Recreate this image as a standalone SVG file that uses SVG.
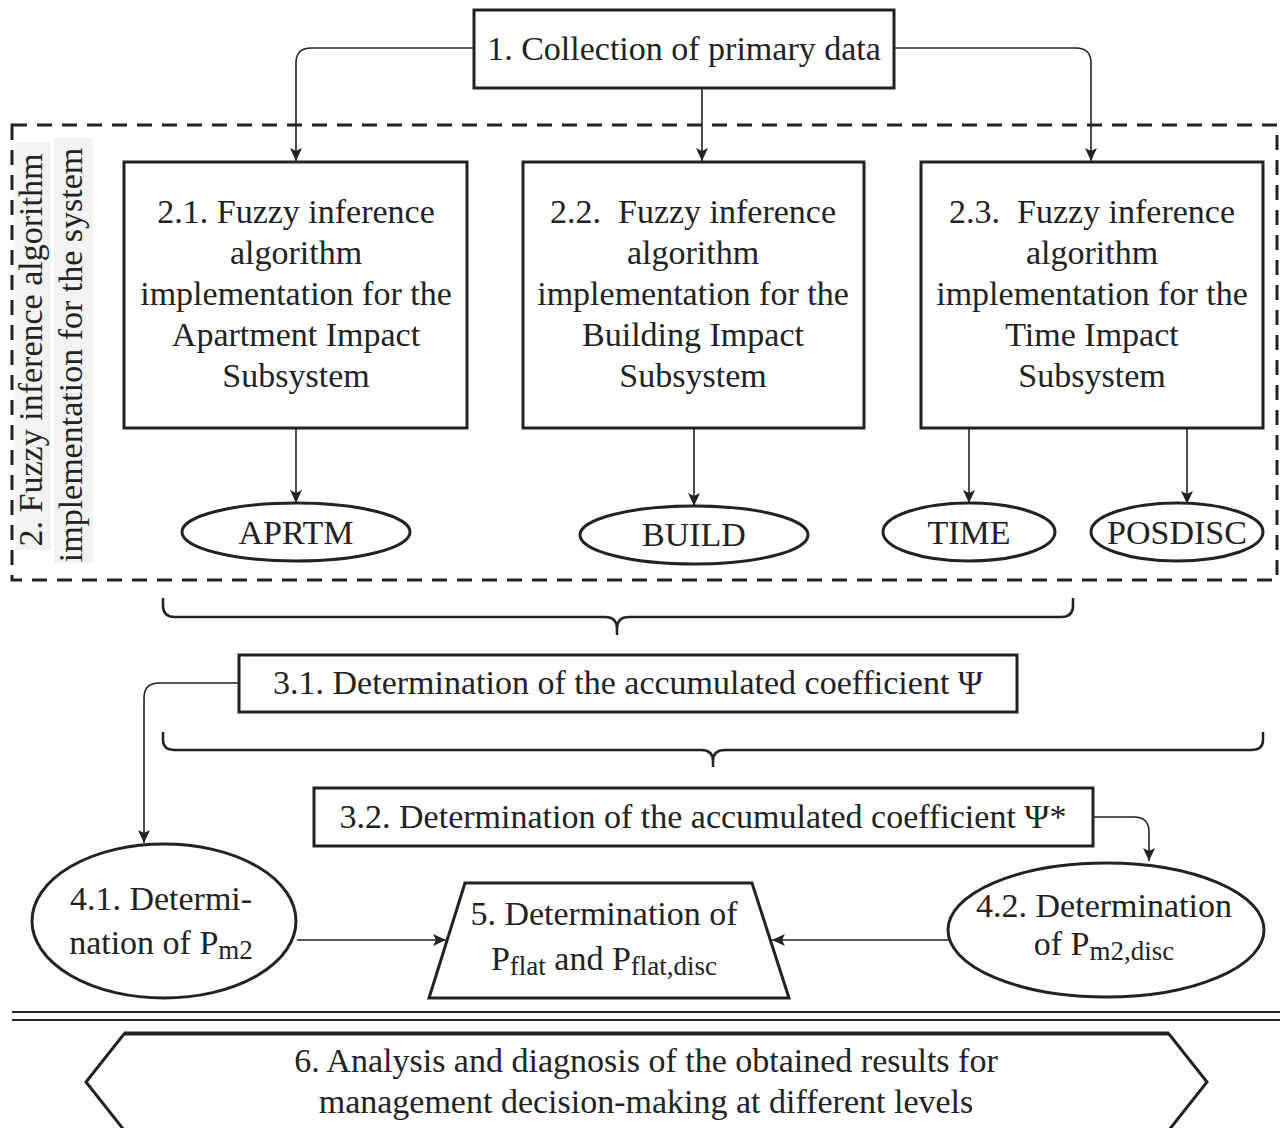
<svg xmlns="http://www.w3.org/2000/svg" width="1280" height="1128" viewBox="0 0 1280 1128">
<style>
text{font-family:"Liberation Serif","Times New Roman",serif;font-size:34px;fill:#222;text-anchor:middle;white-space:pre}
.box{fill:#fff;stroke:#222;stroke-width:3}
.conn{fill:none;stroke:#222;stroke-width:1.6}
.brace{fill:none;stroke:#222;stroke-width:2.5}
.sub{font-size:27px}
</style>
<defs>
<marker id="ah" markerUnits="userSpaceOnUse" markerWidth="14" markerHeight="14" refX="13" refY="6" orient="auto">
<path d="M0,0 L13,6 L0,12 L3,6 z" fill="#222"/>
</marker>
</defs>
<rect width="1280" height="1128" fill="#fff"/>

<g id="group2">
<rect x="12" y="125" width="1265" height="455" fill="none" stroke="#222" stroke-width="3" stroke-dasharray="15 10"/>
<rect x="15" y="142" width="36" height="408" fill="#f3f3f3"/>
<rect x="54" y="138" width="39" height="425" fill="#f3f3f3"/>
<text transform="translate(42,350) rotate(-90)">2. Fuzzy inference algorithm</text>
<text transform="translate(82,355) rotate(-90)">implementation for the system</text>
</g>

<g id="connectors">
<path class="conn" d="M474,48 H311 Q296,48 296,63 V161" marker-end="url(#ah)"/>
<path class="conn" d="M702,88 V161" marker-end="url(#ah)"/>
<path class="conn" d="M894,48 H1076 Q1091,48 1091,63 V161" marker-end="url(#ah)"/>
<path class="conn" d="M296,429 V503" marker-end="url(#ah)"/>
<path class="conn" d="M694,429 V506" marker-end="url(#ah)"/>
<path class="conn" d="M969,429 V503" marker-end="url(#ah)"/>
<path class="conn" d="M1187,429 V504" marker-end="url(#ah)"/>
<path class="conn" d="M239,683 H159 Q144,683 144,698 V843" marker-end="url(#ah)"/>
<path class="conn" d="M1093,817 H1134 Q1149,817 1149,832 V861" marker-end="url(#ah)"/>
<path class="conn" d="M297,940 H446" marker-end="url(#ah)"/>
<path class="conn" d="M949,940 H772" marker-end="url(#ah)"/>
<path class="brace" d="M163,598 V606 Q163,617 175,617 H605 Q617,617 617,629 V635 M617,629 Q617,617 629,617 H1061 Q1073,617 1073,606 V598"/>
<path class="brace" d="M163,732 V740 Q163,750 175,750 H701 Q713,750 713,761 V767 M713,761 Q713,750 725,750 H1251 Q1263,750 1263,740 V732"/>
</g>

<g id="n1">
<rect class="box" x="474" y="10" width="420" height="78"/>
<text x="684" y="60">1. Collection of primary data</text>
</g>

<g id="n2-1">
<rect class="box" x="124" y="162" width="343" height="266"/>
<text x="296" y="223">2.1. Fuzzy inference</text>
<text x="296" y="264">algorithm</text>
<text x="296" y="305">implementation for the</text>
<text x="296" y="346">Apartment Impact</text>
<text x="296" y="387">Subsystem</text>
</g>

<g id="n2-2">
<rect class="box" x="523" y="162" width="341" height="266"/>
<text x="693" y="223">2.2.  Fuzzy inference</text>
<text x="693" y="264">algorithm</text>
<text x="693" y="305">implementation for the</text>
<text x="693" y="346">Building Impact</text>
<text x="693" y="387">Subsystem</text>
</g>

<g id="n2-3">
<rect class="box" x="921" y="162" width="342" height="266"/>
<text x="1092" y="223">2.3.  Fuzzy inference</text>
<text x="1092" y="264">algorithm</text>
<text x="1092" y="305">implementation for the</text>
<text x="1092" y="346">Time Impact</text>
<text x="1092" y="387">Subsystem</text>
</g>

<g id="aprtm">
<ellipse class="box" cx="296" cy="532" rx="114" ry="29"/>
<text x="296" y="544">APRTM</text>
</g>
<g id="build">
<ellipse class="box" cx="694" cy="535" rx="114" ry="29"/>
<text x="694" y="546">BUILD</text>
</g>
<g id="time">
<ellipse class="box" cx="969" cy="532" rx="86" ry="29"/>
<text x="969" y="544">TIME</text>
</g>
<g id="posdisc">
<ellipse class="box" cx="1177" cy="532" rx="86" ry="29"/>
<text x="1177" y="544">POSDISC</text>
</g>

<g id="n3-1">
<rect class="box" x="239" y="655" width="778" height="57"/>
<text x="628" y="694">3.1. Determination of the accumulated coefficient Ψ</text>
</g>

<g id="n3-2">
<rect class="box" x="314" y="788" width="779" height="58"/>
<text x="703" y="828">3.2. Determination of the accumulated coefficient Ψ*</text>
</g>

<g id="n4-1">
<ellipse class="box" cx="164" cy="921" rx="132" ry="77"/>
<text x="161" y="910">4.1. Determi-</text>
<text x="161" y="954">nation of P<tspan class="sub" dy="5">m2</tspan></text>
</g>

<g id="n5">
<polygon class="box" points="465,883 752,883 789,998 429,998"/>
<text x="604" y="925">5. Determination of</text>
<text x="604" y="970">P<tspan class="sub" dy="5">flat</tspan><tspan dy="-5"> and P</tspan><tspan class="sub" dy="5">flat,disc</tspan></text>
</g>

<g id="n4-2">
<ellipse class="box" cx="1106" cy="930" rx="158" ry="67"/>
<text x="1104" y="917">4.2. Determination</text>
<text x="1104" y="955">of P<tspan class="sub" dy="5">m2,disc</tspan></text>
</g>

<g id="separator">
<line x1="12" y1="1012" x2="1280" y2="1012" stroke="#222" stroke-width="2"/>
<line x1="12" y1="1020" x2="1280" y2="1020" stroke="#222" stroke-width="2"/>
</g>

<g id="n6">
<polygon class="box" points="124,1034 1169,1034 1207,1082 1169,1130 124,1130 86,1082"/>
<line x1="124" y1="1033" x2="1169" y2="1033" stroke="#222" stroke-width="3"/>
<text x="646" y="1072">6. Analysis and diagnosis of the obtained results for</text>
<text x="646" y="1113">management decision-making at different levels</text>
</g>
</svg>
